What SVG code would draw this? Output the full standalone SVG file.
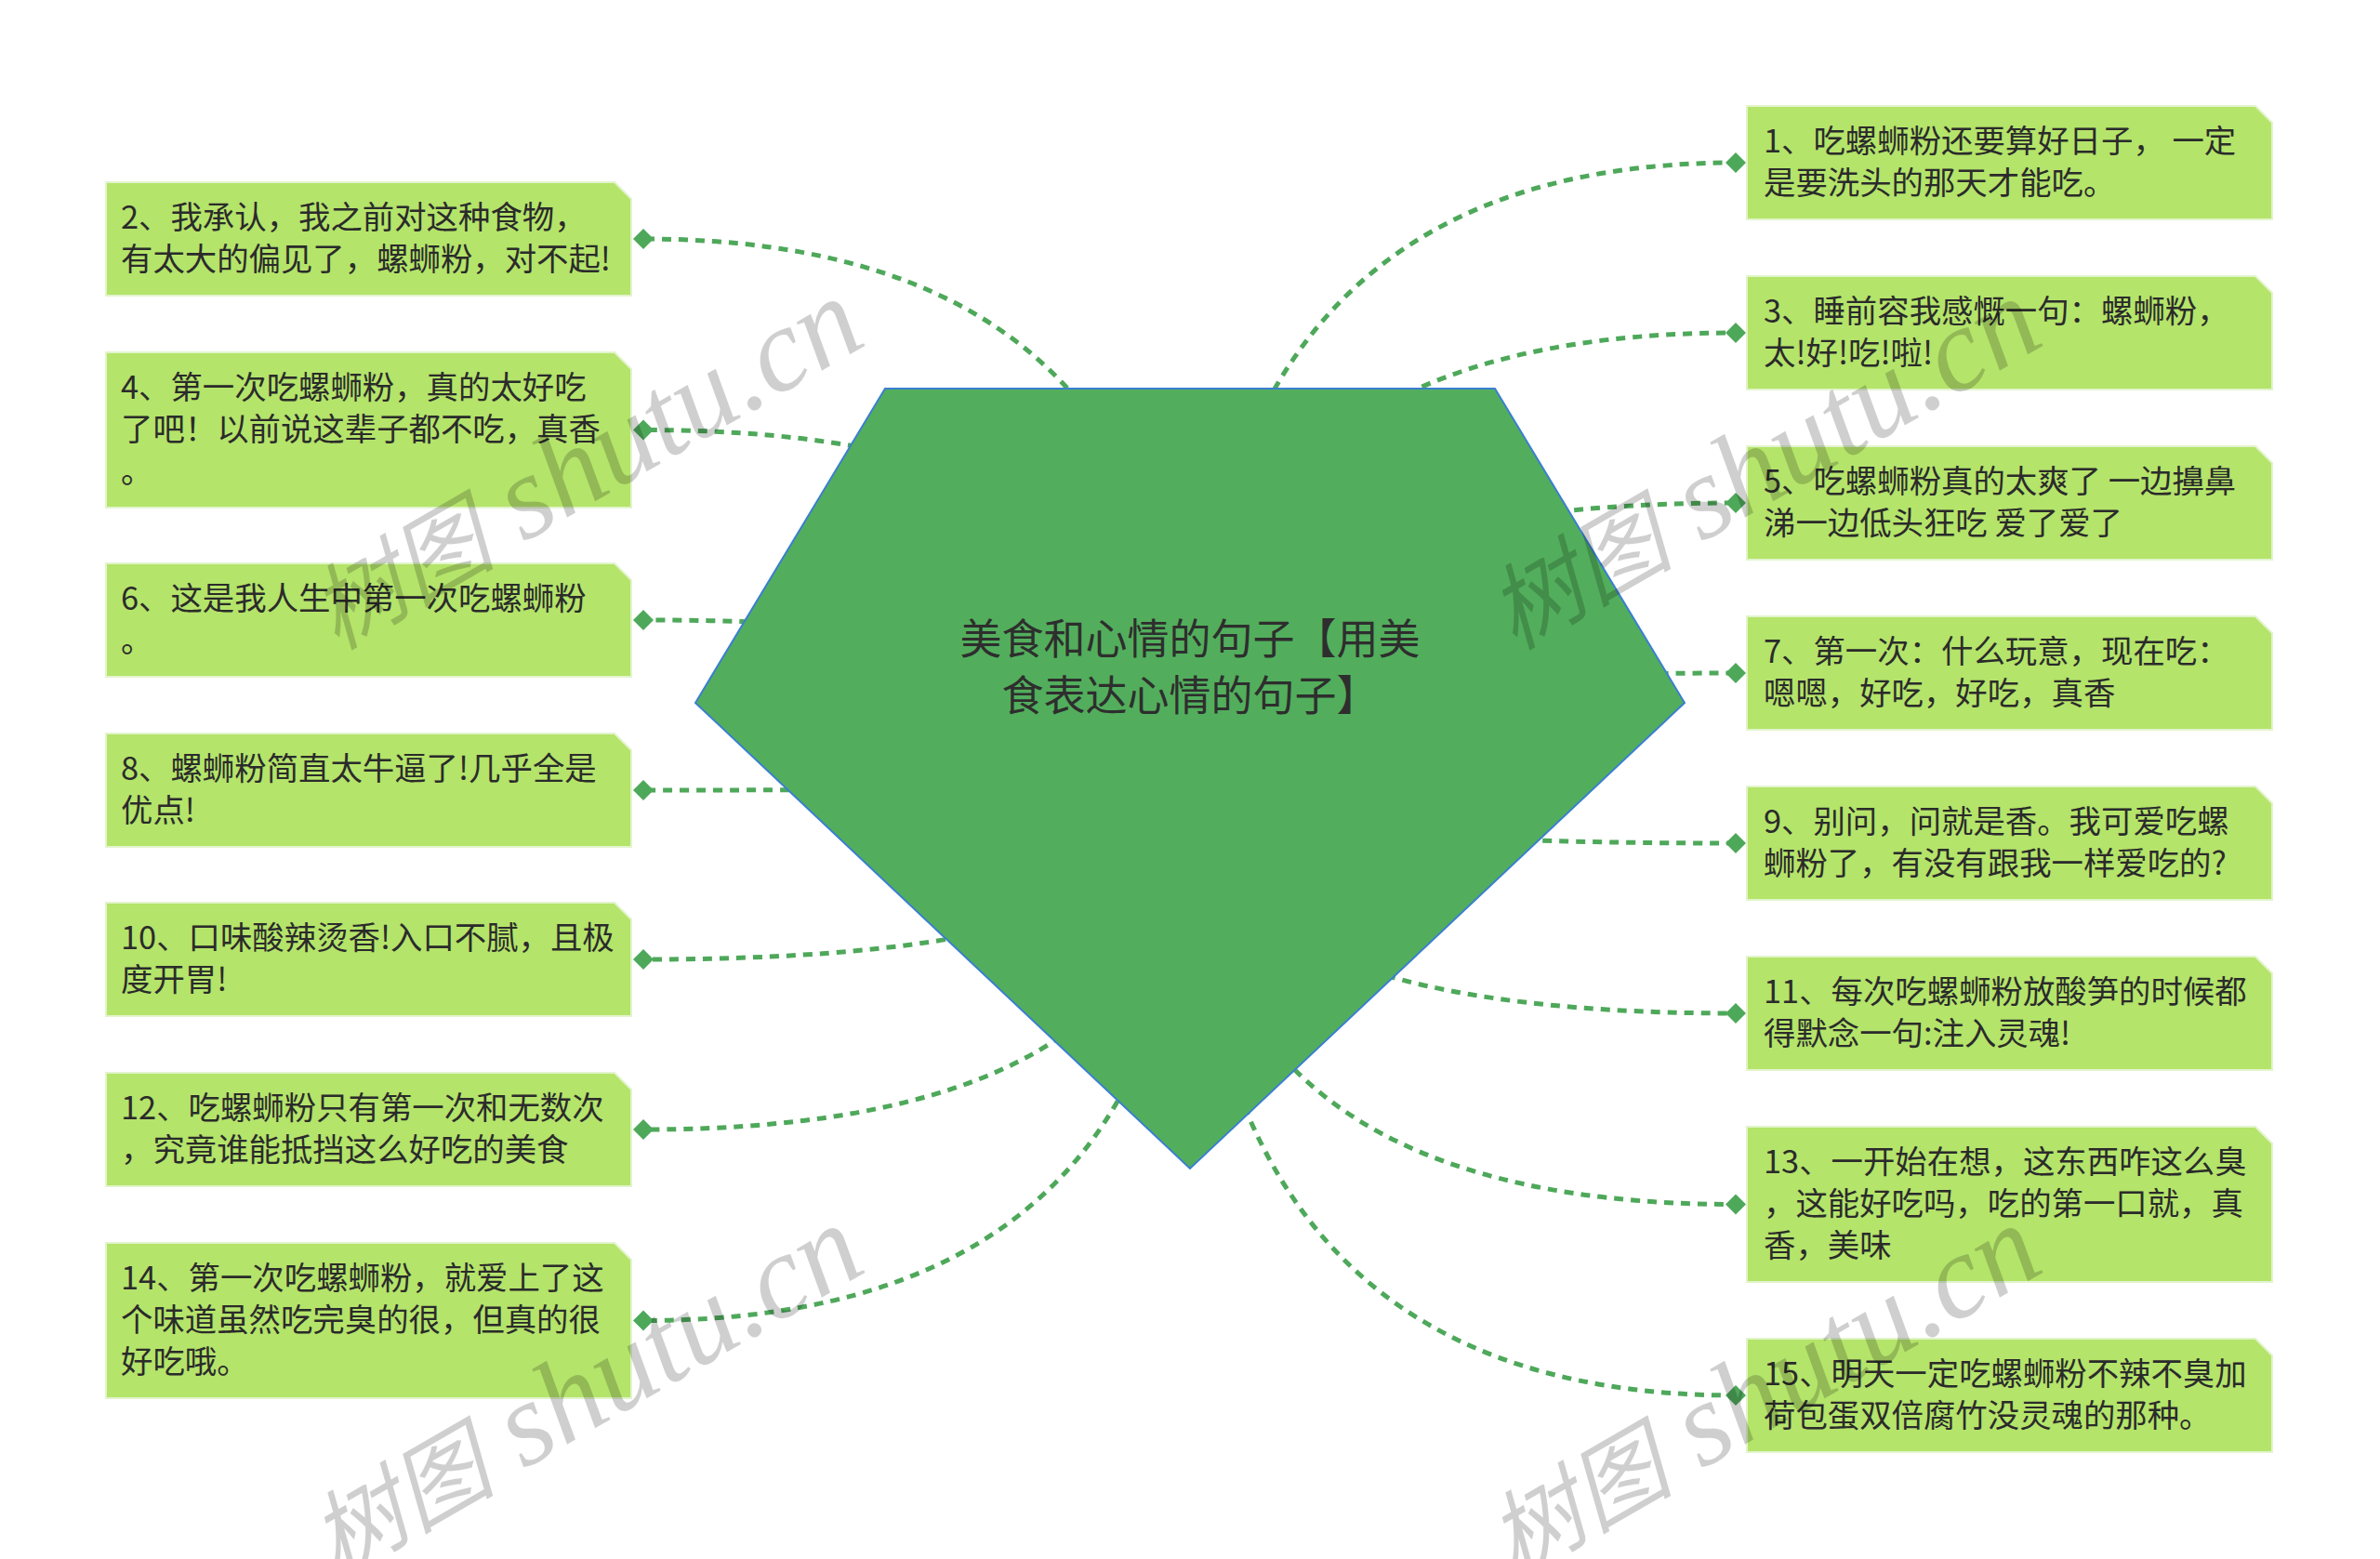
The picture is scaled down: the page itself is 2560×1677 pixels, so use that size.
<svg xmlns="http://www.w3.org/2000/svg" width="2560" height="1677" viewBox="0 0 2560 1677">
<defs>
<style>
.box{fill:#b4e46a;stroke:#e2f4cc;stroke-width:2}
.t{font-family:"Noto Sans CJK SC","Noto Sans",sans-serif;font-size:34.4px;fill:#2b2b2b}
.title{font-family:"Noto Sans CJK SC","Noto Sans",sans-serif;font-size:45px;fill:#2e2e2e;text-anchor:middle}
.c{fill:none;stroke:#4ea85a;stroke-width:5;stroke-dasharray:10 8;marker-end:url(#dia)}
.wm{font-family:"Liberation Serif","Noto Sans CJK SC",serif;font-style:italic;fill:#000;fill-opacity:0.19}
.wz{font-size:100px}
.wl{font-size:128px}
</style>
<marker id="dia" viewBox="-12 -12 24 24" markerWidth="24" markerHeight="24" refX="0" refY="0" orient="auto" markerUnits="userSpaceOnUse">
<path d="M-11 0 L0 -11 L11 0 L0 11 Z" fill="#4ea85a"/>
</marker>
</defs>
<rect width="2560" height="1677" fill="#ffffff"/>
<g id="connectors">
<path class="c" d="M1280 837 Q1280 257 692 257"/>
<path class="c" d="M1280 837 Q1280 462.5 692 462.5"/>
<path class="c" d="M1280 837 Q1280 667 692 667"/>
<path class="c" d="M1280 837 Q1280 850 692 850"/>
<path class="c" d="M1280 837 Q1280 1032 692 1032"/>
<path class="c" d="M1280 837 Q1280 1215 692 1215"/>
<path class="c" d="M1280 837 Q1280 1420.5 692 1420.5"/>
<path class="c" d="M1280 837 Q1280 175 1867 175"/>
<path class="c" d="M1280 837 Q1280 358 1867 358"/>
<path class="c" d="M1280 837 Q1280 541 1867 541"/>
<path class="c" d="M1280 837 Q1280 724 1867 724"/>
<path class="c" d="M1280 837 Q1280 907 1867 907"/>
<path class="c" d="M1280 837 Q1280 1090 1867 1090"/>
<path class="c" d="M1280 837 Q1280 1295.5 1867 1295.5"/>
<path class="c" d="M1280 837 Q1280 1501 1867 1501"/>
</g>
<g id="root">
<path d="M952 418 L1608 418 L1812 756 L1280 1257 L748 756 Z" fill="#52ae5c" stroke="#3a7fd0" stroke-width="2"/>
<text class="title" x="1280" y="704">美食和心情的句子【用美</text>
<text class="title" x="1280" y="765">食表达心情的句子】</text>
</g>
<g id="n2"><path class="box" d="M114 196 H661 L679 214 V318 H114 Z"/>
<text class="t" x="130" y="246">2、我承认，我之前对这种食物，</text><text class="t" x="130" y="291">有太大的偏见了，螺蛳粉，对不起!</text></g>
<g id="n4"><path class="box" d="M114 379 H661 L679 397 V546 H114 Z"/>
<text class="t" x="130" y="429">4、第一次吃螺蛳粉，真的太好吃</text><text class="t" x="130" y="474">了吧！以前说这辈子都不吃，真香</text><text class="t" x="130" y="519">。</text></g>
<g id="n6"><path class="box" d="M114 606 H661 L679 624 V728 H114 Z"/>
<text class="t" x="130" y="656">6、这是我人生中第一次吃螺蛳粉</text><text class="t" x="130" y="701">。</text></g>
<g id="n8"><path class="box" d="M114 789 H661 L679 807 V911 H114 Z"/>
<text class="t" x="130" y="839">8、螺蛳粉简直太牛逼了!几乎全是</text><text class="t" x="130" y="884">优点!</text></g>
<g id="n10"><path class="box" d="M114 971 H661 L679 989 V1093 H114 Z"/>
<text class="t" x="130" y="1021">10、口味酸辣烫香!入口不腻，且极</text><text class="t" x="130" y="1066">度开胃!</text></g>
<g id="n12"><path class="box" d="M114 1154 H661 L679 1172 V1276 H114 Z"/>
<text class="t" x="130" y="1204">12、吃螺蛳粉只有第一次和无数次</text><text class="t" x="130" y="1249">，究竟谁能抵挡这么好吃的美食</text></g>
<g id="n14"><path class="box" d="M114 1337 H661 L679 1355 V1504 H114 Z"/>
<text class="t" x="130" y="1387">14、第一次吃螺蛳粉，就爱上了这</text><text class="t" x="130" y="1432">个味道虽然吃完臭的很，但真的很</text><text class="t" x="130" y="1477">好吃哦。</text></g>
<g id="n1"><path class="box" d="M1879 114 H2426 L2444 132 V236 H1879 Z"/>
<text class="t" x="1897" y="164">1、吃螺蛳粉还要算好日子， 一定</text><text class="t" x="1897" y="209">是要洗头的那天才能吃。</text></g>
<g id="n3"><path class="box" d="M1879 297 H2426 L2444 315 V419 H1879 Z"/>
<text class="t" x="1897" y="347">3、睡前容我感慨一句：螺蛳粉，</text><text class="t" x="1897" y="392">太!好!吃!啦!</text></g>
<g id="n5"><path class="box" d="M1879 480 H2426 L2444 498 V602 H1879 Z"/>
<text class="t" x="1897" y="530">5、吃螺蛳粉真的太爽了 一边擤鼻</text><text class="t" x="1897" y="575">涕一边低头狂吃 爱了爱了</text></g>
<g id="n7"><path class="box" d="M1879 663 H2426 L2444 681 V785 H1879 Z"/>
<text class="t" x="1897" y="713">7、第一次：什么玩意，现在吃：</text><text class="t" x="1897" y="758">嗯嗯，好吃，好吃，真香</text></g>
<g id="n9"><path class="box" d="M1879 846 H2426 L2444 864 V968 H1879 Z"/>
<text class="t" x="1897" y="896">9、别问，问就是香。我可爱吃螺</text><text class="t" x="1897" y="941">蛳粉了，有没有跟我一样爱吃的?</text></g>
<g id="n11"><path class="box" d="M1879 1029 H2426 L2444 1047 V1151 H1879 Z"/>
<text class="t" x="1897" y="1079">11、每次吃螺蛳粉放酸笋的时候都</text><text class="t" x="1897" y="1124">得默念一句:注入灵魂!</text></g>
<g id="n13"><path class="box" d="M1879 1212 H2426 L2444 1230 V1379 H1879 Z"/>
<text class="t" x="1897" y="1262">13、一开始在想，这东西咋这么臭</text><text class="t" x="1897" y="1307">，这能好吃吗，吃的第一口就，真</text><text class="t" x="1897" y="1352">香，美味</text></g>
<g id="n15"><path class="box" d="M1879 1440 H2426 L2444 1458 V1562 H1879 Z"/>
<text class="t" x="1897" y="1490">15、明天一定吃螺蛳粉不辣不臭加</text><text class="t" x="1897" y="1535">荷包蛋双倍腐竹没灵魂的那种。</text></g>
<g id="watermarks">
<text class="wm" transform="translate(362 700) rotate(-30)"><tspan class="wz">树图</tspan><tspan class="wl"> shutu.cn</tspan></text>
<text class="wm" transform="translate(1629 700) rotate(-30)"><tspan class="wz">树图</tspan><tspan class="wl"> shutu.cn</tspan></text>
<text class="wm" transform="translate(362 1697) rotate(-30)"><tspan class="wz">树图</tspan><tspan class="wl"> shutu.cn</tspan></text>
<text class="wm" transform="translate(1629 1697) rotate(-30)"><tspan class="wz">树图</tspan><tspan class="wl"> shutu.cn</tspan></text>
</g>
</svg>
